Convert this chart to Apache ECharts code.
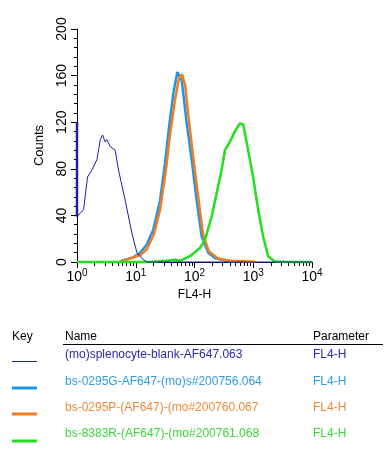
<!DOCTYPE html>
<html>
<head>
<meta charset="utf-8">
<script src="https://cdn.jsdelivr.net/npm/echarts@6/dist/echarts.min.js"></script>
<style>
html,body{margin:0;padding:0;background:#fff;}
#c{width:387px;height:452px;}
</style>
</head>
<body>
<div id="c"></div>
<script>
// FL4-H positions are given as log10 decades (0 = 10^0 ... 4 = 10^4)
var blankX   = [0, 0.002, 0.112, 0.18, 0.255, 0.34, 0.396, 0.435, 0.48, 0.509, 0.565, 0.65, 0.706, 0.82, 0.934, 1.019, 1.104, 1.19, 1.5, 2.0, 2.5, 3.0, 3.5, 4.0];
var blankY   = [120, 39, 45, 73, 79, 88, 105, 109, 103, 105, 99, 96, 79, 53, 25, 8, 3, 0, 0, 0, 0, 0, 0, 0];

var g0295X   = [0.735, 0.82, 0.956, 1.075, 1.188, 1.30, 1.414, 1.499, 1.555, 1.64, 1.708, 1.783, 1.868, 1.952, 2.037, 2.122, 2.234, 2.348, 2.489, 2.69];
var g0295Y   = [0.5, 2, 4, 8, 15, 28, 53, 85, 111, 145, 163, 156, 119, 88, 53, 22, 8, 3.5, 1.5, 0.3];

var p0295X   = [0.735, 0.82, 0.956, 1.075, 1.19, 1.31, 1.414, 1.516, 1.58, 1.67, 1.737, 1.788, 1.84, 1.907, 1.99, 2.06, 2.145, 2.245, 2.4, 2.6, 3.03];
var p0295Y   = [0, 1.5, 4, 6, 11, 24, 45, 80, 108, 140, 158, 161, 152, 120, 85, 57, 24, 9, 3, 1, 0.3];

var r8383X   = [0, 0.5, 1.0, 1.245, 1.516, 1.67, 1.754, 1.924, 2.094, 2.178, 2.292, 2.377, 2.462, 2.518, 2.603, 2.687, 2.772, 2.829, 2.913, 2.998, 3.083, 3.168, 3.253, 3.367, 3.6, 4.0];
var r8383Y   = [0, 0, 0, 0, 1, 2, 1, 5, 12, 19, 39, 59, 79, 96, 103, 112, 119, 118, 96, 73, 45, 22, 5, 0.5, 0, 0];

var seriesNames = ['(mo)splenocyte-blank-AF647.063', 'bs-0295G-AF647-(mo)s#200756.064', 'bs-0295P-(AF647)-(mo#200760.067', 'bs-8383R-(AF647)-(mo#200761.068'];
var seriesParam = ['FL4-H', 'FL4-H', 'FL4-H', 'FL4-H'];
var xTickExp = [0, 1, 2, 3, 4];
var yTicks = [0, 40, 80, 120, 160, 200];

var colors = ['#1f1fa0', '#1e96e6', '#f47b20', '#22e01e'];
var legendColors = ['#2a2aa8', '#2f9be0', '#f08a3a', '#3ad83a'];
var widths = [1, 2.5, 2.5, 2.5];

function pairs(xs, ys){ return xs.map(function(x,i){ return [x, ys[i]]; }); }
var data = [pairs(blankX, blankY), pairs(g0295X, g0295Y), pairs(p0295X, p0295Y), pairs(r8383X, r8383Y)];

var minorVals = [];
for (var d = 0; d < 4; d++) for (var k = 2; k <= 9; k++) minorVals.push(d + Math.log10(k));

var font = 'Liberation Sans, Arial, Helvetica, sans-serif';

var series = data.map(function(dd, i){
  return {
    type: 'line', name: seriesNames[i], data: dd, xAxisIndex: 0, yAxisIndex: 0,
    showSymbol: false, symbol: 'none', animation: false, clip: false,
    lineStyle: { color: colors[i], width: widths[i] },
    z: i === 0 ? 6 : 2 + i
  };
});
// the blank sample's first channel bar sits on the axis
series.push({
  type: 'line', data: [[blankX[0], blankY[1]], [blankX[0], blankY[0]]], xAxisIndex: 0, yAxisIndex: 0,
  showSymbol: false, symbol: 'none', clip: false, animation: false, silent: true,
  lineStyle: { color: colors[0], width: 2.5 }, z: 20
});

var graphics = [];
var hdrY = 338;
graphics.push({ type: 'text', left: 12, top: hdrY - 7, style: { text: 'Key', font: '12px ' + font, fill: '#000' } });
graphics.push({ type: 'text', left: 65, top: hdrY - 7, style: { text: 'Name', font: '12px ' + font, fill: '#000' } });
graphics.push({ type: 'text', left: 313, top: hdrY - 7, style: { text: 'Parameter', font: '12px ' + font, fill: '#000' } });
graphics.push({ type: 'line', shape: { x1: 63, y1: 344.5, x2: 383, y2: 344.5 }, style: { stroke: '#000', lineWidth: 1 } });
var rowY = [356, 383, 409, 435];
var keyY = [361.5, 388, 414, 441];
for (var i = 0; i < 4; i++) {
  graphics.push({ type: 'line', shape: { x1: 12, y1: keyY[i], x2: 37, y2: keyY[i] }, style: { stroke: colors[i], lineWidth: i === 0 ? 1 : 3 } });
  graphics.push({ type: 'text', left: 65, top: rowY[i] - 7, style: { text: seriesNames[i], font: '12px ' + font, fill: legendColors[i] } });
  graphics.push({ type: 'text', left: 313, top: rowY[i] - 7, style: { text: seriesParam[i], font: '12px ' + font, fill: legendColors[i] } });
}

var chart = echarts.init(document.getElementById('c'), null, { renderer: 'canvas' });
chart.setOption({
  animation: false,
  backgroundColor: '#fff',
  grid: { left: 77, top: 29, width: 235, height: 233, containLabel: false },
  xAxis: [{
    type: 'value', min: 0, max: 4, interval: 1,
    axisLine: { show: true, lineStyle: { color: '#000', width: 1 } },
    axisTick: { show: true, length: 6, lineStyle: { color: '#000' }, customValues: xTickExp },
    splitLine: { show: false },
    axisLabel: {
      margin: 6, color: '#000', fontFamily: font, customValues: xTickExp,
      formatter: function(v){ return '{b|10}{s|' + v + '}'; },
      rich: { b: { fontSize: 14, fontFamily: font, color: '#000' }, s: { fontSize: 10, fontFamily: font, color: '#000', padding: [0,0,8,0] } }
    },
    name: 'FL4-H', nameLocation: 'middle', nameGap: 26,
    nameTextStyle: { fontSize: 12, fontFamily: font, color: '#000' }
  }, {
    type: 'value', min: 0, max: 4, gridIndex: 0, position: 'bottom',
    axisLine: { show: false },
    axisTick: { show: true, length: 4, lineStyle: { color: '#000' }, customValues: minorVals },
    axisLabel: { show: false },
    splitLine: { show: false }
  }],
  yAxis: [{
    type: 'value', min: 0, max: 200, interval: 40,
    axisLine: { show: true, lineStyle: { color: '#000', width: 1 } },
    axisTick: { show: true, length: 6, lineStyle: { color: '#000' } },
    minorTick: { show: true, splitNumber: 5, length: 3, lineStyle: { color: '#000' } },
    splitLine: { show: false },
    axisLabel: { rotate: 90, margin: 8, fontSize: 14, fontFamily: font, color: '#000' },
    name: 'Counts', nameLocation: 'middle', nameGap: 31, nameRotate: 90,
    nameTextStyle: { fontSize: 13, fontFamily: font, color: '#000' }
  }],
  series: series,
  graphic: graphics
});
</script>
</body>
</html>
